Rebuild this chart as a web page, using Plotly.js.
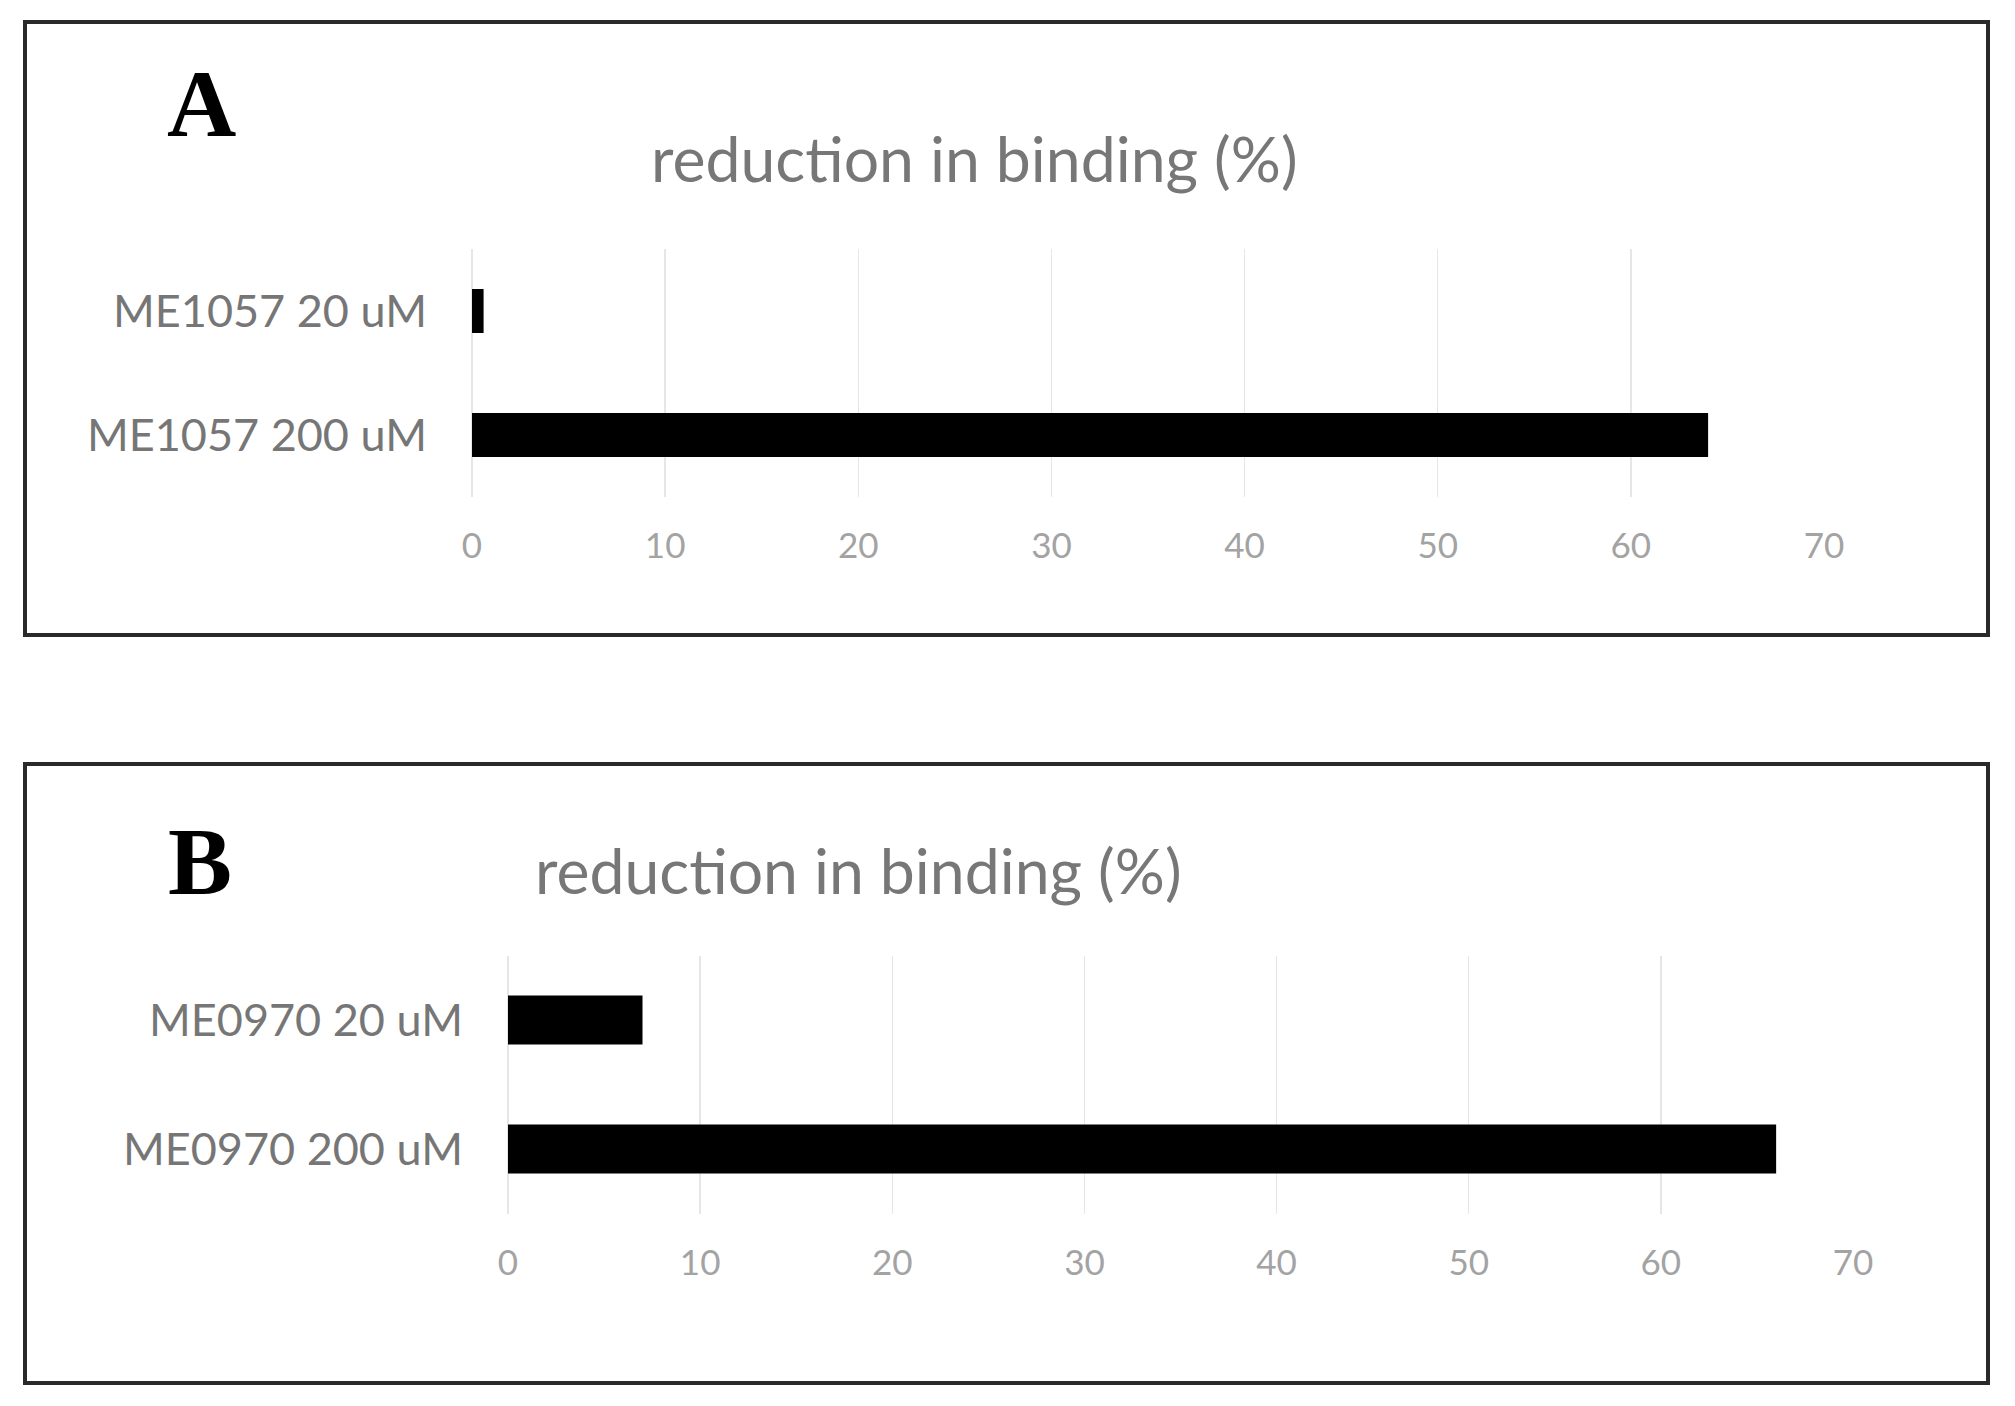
<!DOCTYPE html>
<html>
<head>
<meta charset="utf-8">
<script src="https://cdn.plot.ly/plotly-3.0.1.min.js"></script>
<style>
  html, body { margin: 0; padding: 0; background: #fff; }
  #chart { width: 2015px; height: 1406px; }
</style>
</head>
<body>
<div id="chart"></div>
<script>
// panel A
var catsA = ['ME1057 20 uM', 'ME1057 200 uM'];
var valsA = [0.6, 64];
// panel B
var catsB = ['ME0970 20 uM', 'ME0970 200 uM'];
var valsB = [7, 66];

var xTicks = [0, 10, 20, 30, 40, 50, 60, 70];
var titleText = 'reduction in binding (%)';

var W = 2015, H = 1406;
function px(x) { return x / W; }
function py(y) { return 1 - y / H; }

var labelFont = { family: 'Lato, sans-serif', size: 45, color: '#767676' };
var tickFont = { family: 'Lato, sans-serif', size: 35, color: '#a3a3a3' };

var traceA = {
    type: 'bar', orientation: 'h',
    x: valsA, y: catsA,
    width: 0.355,
    marker: { color: '#000' },
    xaxis: 'x', yaxis: 'y',
    hoverinfo: 'none'
};
var traceB = {
    type: 'bar', orientation: 'h',
    x: valsB, y: catsB,
    width: 0.38,
    marker: { color: '#000' },
    xaxis: 'x2', yaxis: 'y2',
    hoverinfo: 'none'
};

function xAxis(domain, anchor) {
    return {
        domain: domain, anchor: anchor,
        range: [0, 70], tickvals: xTicks,
        showgrid: true, gridcolor: '#e6e6e6', gridwidth: 1.5,
        zeroline: true, zerolinecolor: '#e6e6e6', zerolinewidth: 1.5,
        showline: false, ticks: '',
        tickfont: tickFont, ticklabelstandoff: 25,
        fixedrange: true
    };
}
function yAxis(domain, anchor) {
    return {
        domain: domain, anchor: anchor,
        type: 'category', autorange: 'reversed',
        showgrid: false, zeroline: false, showline: false, ticks: '',
        tickfont: labelFont, ticklabelstandoff: 44,
        fixedrange: true
    };
}

var layout = {
    width: W, height: H,
    margin: { l: 0, r: 0, t: 0, b: 0 },
    paper_bgcolor: '#fff', plot_bgcolor: '#fff',
    showlegend: false,
    xaxis: xAxis([px(472), px(1824)], 'y'),
    yaxis: yAxis([py(497), py(249)], 'x'),
    xaxis2: xAxis([px(508), px(1853)], 'y2'),
    yaxis2: yAxis([py(1213.5), py(955.5)], 'x2'),
    shapes: [
        { type: 'rect', xref: 'paper', yref: 'paper',
          x0: px(25), x1: px(1988), y0: py(635), y1: py(22),
          line: { color: '#2a2a2a', width: 4 } },
        { type: 'rect', xref: 'paper', yref: 'paper',
          x0: px(25), x1: px(1988), y0: py(1383), y1: py(764),
          line: { color: '#2a2a2a', width: 4 } }
    ],
    annotations: [
        { text: '<b>A</b>', xref: 'paper', yref: 'paper', x: px(201), y: py(104),
          xanchor: 'center', yanchor: 'middle', showarrow: false,
          font: { family: 'Liberation Serif, serif', size: 96, color: '#000' } },
        { text: '<b>B</b>', xref: 'paper', yref: 'paper', x: px(200), y: py(861),
          xanchor: 'center', yanchor: 'middle', showarrow: false,
          font: { family: 'Liberation Serif, serif', size: 96, color: '#000' } },
        { text: titleText, xref: 'paper', yref: 'paper', x: px(974), y: py(157),
          xanchor: 'center', yanchor: 'middle', showarrow: false,
          font: { family: 'Lato, sans-serif', size: 62.5, color: '#777' } },
        { text: titleText, xref: 'paper', yref: 'paper', x: px(858), y: py(869),
          xanchor: 'center', yanchor: 'middle', showarrow: false,
          font: { family: 'Lato, sans-serif', size: 62.5, color: '#777' } }
    ]
};

Plotly.newPlot('chart', [traceA, traceB], layout, { staticPlot: true });
</script>
</body>
</html>
